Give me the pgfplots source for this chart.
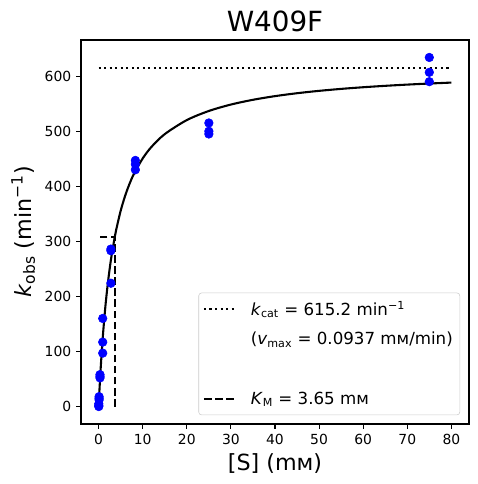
\documentclass[border=0pt]{standalone}
\usepackage{fontspec}
\setmainfont{DejaVu Sans}
\usepackage{pgfplots}
\pgfplotsset{compat=1.18}

\begin{document}
\begin{tikzpicture}
\begin{axis}[
  name=ax,
  scale only axis, width=279.36pt, height=276.48pt,
  xmin=-4, xmax=84, ymin=-31.7, ymax=665.7,
  xtick={0,10,...,80}, ytick={0,100,...,600},
  tick align=outside, tick pos=left, major tick length=3.5pt,
  every tick/.style={black, line width=0.8pt},
  axis line style={line width=0.8pt},
  /pgf/number format/assume math mode=true,
  ticklabel style={font=\fontsize{10}{12}\selectfont},
  title={W409F},
  title style={font=\fontsize{20}{24}\selectfont, yshift=-3.5pt},
  xlabel={[S] (mᴍ)},
  ylabel={\textit{k}\textsubscript{obs} (min\textsuperscript{−1})},
  label style={font=\fontsize{16}{19}\selectfont},
  legend style={at={(0.977,0.023)}, anchor=south east, draw=black!20,
    rounded corners=2pt, fill=white, fill opacity=0.8, text opacity=1,
    draw opacity=1,
    font=\fontsize{12}{14.4}\selectfont, inner xsep=3pt, inner ysep=4pt,
    row sep=6.5pt, cells={anchor=west}},
  legend image code/.code={\draw[#1] (0pt,0pt) -- (23pt,0pt); \path (31pt,0pt);},
]
% legend entries
\addlegendimage{black, line width=1.5pt, dash pattern=on 1.5pt off 2.475pt}
\addlegendentry{\textit{k}\textsubscript{cat} = 615.2 min\textsuperscript{−1}}
\addlegendimage{empty legend}
\addlegendentry{(\textit{v}\textsubscript{max} = 0.0937 mᴍ/min)}
\addlegendimage{empty legend}
\addlegendentry{\strut}
\addlegendimage{black, line width=1.5pt, dash pattern=on 5.55pt off 2.4pt}
\addlegendentry{\textit{K}\textsubscript{M} = 3.65 mᴍ}

% kcat line
\addplot[forget plot, black, line width=1.5pt, dash pattern=on 1.5pt off 2.475pt]
  coordinates {(0,615.2) (80,615.2)};
% KM lines
\addplot[forget plot, black, line width=1.5pt, dash pattern=on 5.55pt off 2.4pt]
  coordinates {(3.65,0) (3.65,307.6) (0,307.6)};
% fit
\addplot[forget plot, black, line width=1.5pt, smooth] coordinates {
(0,0) (0.1,16.41) (0.25,39.44) (0.5,74.12) (0.75,104.86) (1,132.30) (1.5,179.18)
(2,217.77) (2.5,250.08) (3,277.53) (3.65,307.6) (4,321.67) (5,355.61)
(6,382.51) (7,404.36) (8,422.45) (10,450.70) (12,471.72) (15,494.80)
(20,520.25) (25,536.82) (30,548.47) (35,557.10) (40,563.76) (45,569.05)
(50,573.35) (55,576.91) (60,579.92) (65,582.48) (70,584.71) (75,586.65) (80,588.36)};
% data
\addplot[forget plot, only marks, mark=*, mark size=3.1pt, color=blue,
  mark options={fill=blue, draw=blue}] coordinates {
(0.034,0) (0.034,2) (0.034,5)
(0.103,12) (0.103,15) (0.103,18)
(0.309,52) (0.309,55) (0.309,58)
(0.926,97) (0.926,117) (0.926,160)
(2.78,224) (2.78,283) (2.78,286)
(8.33,430) (8.33,440) (8.33,447)
(25,495) (25,500) (25,515)
(75,590) (75,607) (75,634)};
\end{axis}
\pgfresetboundingbox
\path (ax.south west) ++(-58.32pt,-43.2pt) rectangle ++(343.44pt,348.48pt);
\end{tikzpicture}
\end{document}
